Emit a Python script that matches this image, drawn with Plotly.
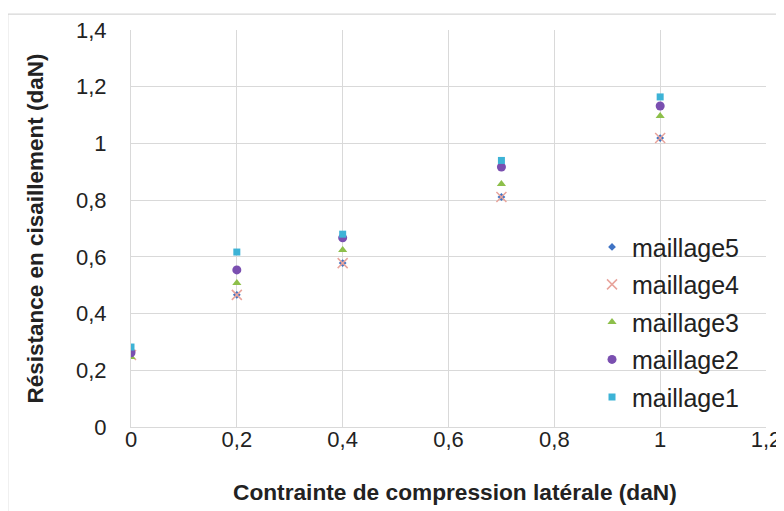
import plotly.graph_objects as go

x_vals = [0, 0.2, 0.4, 0.7, 1.0]
series_names = ["maillage5", "maillage4", "maillage3", "maillage2", "maillage1"]
maillage5 = [0.270, 0.466, 0.578, 0.811, 1.019]
maillage4 = [0.254, 0.466, 0.578, 0.811, 1.019]
maillage3 = [0.247, 0.508, 0.624, 0.857, 1.097]
maillage2 = [0.262, 0.554, 0.667, 0.917, 1.132]
maillage1 = [0.282, 0.617, 0.680, 0.940, 1.164]

x_ticks = [0, 0.2, 0.4, 0.6, 0.8, 1.0, 1.2]
x_tick_labels = ["0", "0,2", "0,4", "0,6", "0,8", "1", "1,2"]
y_ticks = [0, 0.2, 0.4, 0.6, 0.8, 1.0, 1.2, 1.4]
y_tick_labels = ["0", "0,2", "0,4", "0,6", "0,8", "1", "1,2", "1,4"]

series = [maillage5, maillage4, maillage3, maillage2, maillage1]
symbols = ["diamond", "x-thin", "triangle-up", "circle", "square"]
colors = ["#3f73c4", "#e8a49c", "#8dbf4a", "#7a4fb0", "#3db3d6"]
sizes = [6, 10, 8, 9, 7]

fig = go.Figure()
for name, vals, sym, col, sz in zip(series_names, series, symbols, colors, sizes):
    marker = dict(symbol=sym, color=col, size=sz)
    if sym == "x-thin":
        marker["line"] = dict(color=col, width=1.5)
    fig.add_trace(go.Scatter(x=x_vals, y=vals, mode="markers", name=name,
                             legendgroup=name, marker=marker))

font_fam = "Liberation Sans, Arial, sans-serif"
fig.update_layout(
    width=784, height=511,
    margin=dict(l=123, r=26, t=22, b=92),
    paper_bgcolor="white", plot_bgcolor="white",
    font=dict(family=font_fam, size=22, color="#222222"),
    showlegend=True,
    legend=dict(x=0.726, y=0.511, xanchor="left", yanchor="top",
                bgcolor="rgba(255,255,255,0)", font=dict(size=25),
                tracegroupgap=2),
    xaxis=dict(range=[0, 1.2], tickvals=x_ticks, ticktext=x_tick_labels,
               showgrid=True, gridcolor="#d9d9d9", gridwidth=1, zeroline=False,
               showline=True, linecolor="#d9d9d9", ticks="", automargin=False,
               ticklabelstandoff=-7),
    yaxis=dict(range=[0, 1.4], tickvals=y_ticks, ticktext=y_tick_labels,
               showgrid=True, gridcolor="#d9d9d9", gridwidth=1, zeroline=False,
               showline=True, linecolor="#d9d9d9", ticks="", automargin=False,
               ticklabelstandoff=19),
)
fig.add_annotation(text="<b>Contrainte de compression latérale (daN)</b>", xref="paper", yref="paper",
                   x=0.51, y=-0.164, xanchor="center", yanchor="middle", showarrow=False,
                   font=dict(size=22.7, color="#222222"))
fig.add_annotation(text="<b>Résistance en cisaillement (daN)</b>", xref="paper", yref="paper",
                   x=-0.151, y=0.5, xanchor="center", yanchor="middle", showarrow=False,
                   textangle=-90, font=dict(size=22.5, color="#222222"))
fig.add_shape(type="rect", xref="paper", yref="paper", x0=-0.194, x1=1.06, y0=-0.215, y1=1.04,
              line=dict(color="#cccccc", width=1))
fig.write_html("out.html")
